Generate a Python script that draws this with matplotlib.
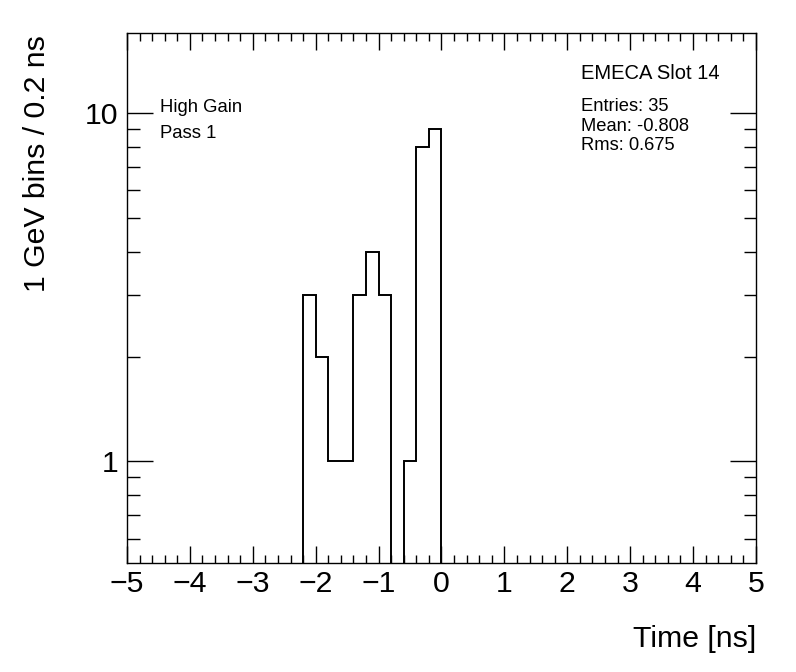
import matplotlib
matplotlib.use("Agg")
import matplotlib.pyplot as plt
import numpy as np
from matplotlib.ticker import MultipleLocator, LogLocator, FixedLocator

plt.rcParams['font.family'] = ['Liberation Sans', 'DejaVu Sans']

# histogram data: 0.2 ns bins from -5 to 5
bin_edges = np.round(np.arange(-5.0, 5.0001, 0.2), 1)
counts = np.zeros(50)
filled_lo = [-2.2, -2.0, -1.8, -1.6, -1.4, -1.2, -1.0, -0.8, -0.6, -0.4, -0.2]
filled_n = [3, 2, 1, 1, 3, 4, 3, 0, 1, 8, 9]
for lo, n in zip(filled_lo, filled_n):
    counts[int(round((lo + 5.0) / 0.2))] = n

fig = plt.figure(figsize=(7.96, 6.72), dpi=100)
ax = fig.add_axes([0.1595, 0.162, 0.7902, 0.789])

# zero bins pushed below the axis so the line drops out of frame (ROOT log style)
shown = np.where(counts > 0, counts, 1e-3)
ax.stairs(shown, bin_edges, color='black', linewidth=1.4, baseline=1e-3)

ax.set_yscale('log')
ax.set_xlim(-5, 5)
ax.set_ylim(0.51, 17.0)

ax.xaxis.set_major_locator(MultipleLocator(1))
ax.xaxis.set_minor_locator(MultipleLocator(0.2))
ax.yaxis.set_major_locator(FixedLocator([1, 10]))
ax.yaxis.set_minor_locator(LogLocator(base=10, subs=np.arange(2, 10)))
ax.yaxis.set_minor_formatter(plt.NullFormatter())
ax.yaxis.set_major_formatter(plt.FuncFormatter(lambda v, _: '%d' % v))
ax.xaxis.set_major_formatter(plt.FuncFormatter(lambda v, _: ('%d' % v).replace('-', '\u2212')))

ax.tick_params(which='both', direction='in', top=True, right=True, labelsize=21.8, width=1.0)
ax.tick_params(axis='x', which='major', length=12, pad=5)
ax.tick_params(axis='x', which='minor', length=6)
ax.tick_params(axis='y', which='major', length=19, pad=6)
ax.tick_params(axis='y', which='minor', length=9)
for s in ax.spines.values():
    s.set_linewidth(1.0)

fig.text(0.047, 0.948, '1 GeV bins / 0.2 ns', rotation=90, ha='center', va='top', fontsize=21.8)
fig.text(0.9497, 0.037, 'Time [ns]', ha='right', va='baseline', fontsize=21.8)

ax.text(0.053, 0.860, 'High Gain', transform=ax.transAxes, fontsize=13.3, va='center')
ax.text(0.053, 0.811, 'Pass 1', transform=ax.transAxes, fontsize=13.3, va='center')
ax.text(0.722, 0.923, 'EMECA Slot 14', transform=ax.transAxes, fontsize=14.5, va='center')
ax.text(0.722, 0.862, 'Entries: 35', transform=ax.transAxes, fontsize=13.2, va='center')
ax.text(0.722, 0.823, 'Mean: -0.808', transform=ax.transAxes, fontsize=13.2, va='center')
ax.text(0.722, 0.787, 'Rms: 0.675', transform=ax.transAxes, fontsize=13.2, va='center')

fig.savefig('out.png', dpi=100)
